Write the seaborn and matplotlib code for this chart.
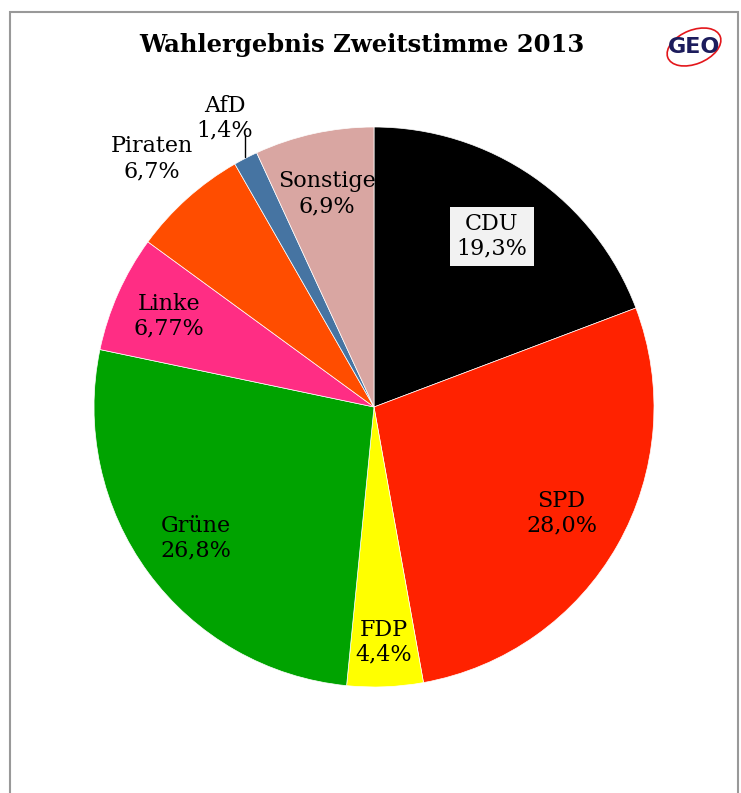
import numpy as np
import matplotlib
matplotlib.use("Agg")
import matplotlib.pyplot as plt
from matplotlib.patches import Rectangle, Ellipse
import seaborn as sns

sns.set_theme(style="white")
plt.rcParams['font.family'] = ['DejaVu Serif']
plt.rcParams['text.color'] = 'black'

# Zweitstimme 2013
parties = ["CDU", "SPD", "FDP", "Grüne", "Linke", "Piraten", "AfD", "Sonstige"]
shares = [19.3, 28.0, 4.4, 26.8, 6.77, 6.7, 1.4, 6.9]
share_labels = ["19,3%", "28,0%", "4,4%", "26,8%", "6,77%", "6,7%", "1,4%", "6,9%"]
colors = ["#000000", "#FF2200", "#FFFF00", "#00A300", "#FF2D84",
          "#FF4D00", "#4674A2", "#D9A6A2"]

# label placement (fraction of radius)
label_dist = [0.74, 0.77, 0.84, 0.79, 0.80, 1.19, 1.16, 0.78]

fig = plt.figure(figsize=(7.41, 7.93), dpi=100)

# frame around the chart
fig.patches.append(Rectangle((10 / 741, -0.05), 728 / 741, 1 - 12 / 793 + 0.05,
                             transform=fig.transFigure, fill=False,
                             edgecolor="#999999", linewidth=1.5))

ax = fig.add_axes([94 / 741, 106 / 793, 560 / 741, 560 / 793])
wedges, _ = ax.pie(shares, colors=colors, startangle=90, counterclock=False,
                   radius=1, wedgeprops=dict(edgecolor="white", linewidth=0.5))
ax.set_xlim(-1, 1)
ax.set_ylim(-1, 1)
ax.set_aspect("equal")
ax.axis("off")

for i, w in enumerate(wedges):
    ang = np.deg2rad((w.theta1 + w.theta2) / 2)
    r = label_dist[i]
    x, y = r * np.cos(ang), r * np.sin(ang)
    kw = dict(ha="center", va="center", fontsize=16, color="black",
              linespacing=1.15, clip_on=False)
    if parties[i] == "CDU":
        kw["bbox"] = dict(boxstyle="square,pad=0.3", facecolor="#F2F2F2", edgecolor="none")
    ax.text(x, y, f"{parties[i]}\n{share_labels[i]}", **kw)
    if parties[i] == "AfD":
        ax.plot([np.cos(ang) * 1.005, np.cos(ang) * 1.005],
                [np.sin(ang) * 1.005, np.sin(ang) * 1.005 + 0.08],
                color="black", linewidth=1, clip_on=False)

fig.text(362 / 741, 1 - 45 / 793, "Wahlergebnis Zweitstimme 2013",
         ha="center", va="center", fontsize=17.5, fontweight="bold", color="black")

# GEO logo
fig.patches.append(Ellipse((694 / 741, 1 - 47 / 793), 56 / 741, 34 / 793, angle=20,
                           transform=fig.transFigure, fill=False,
                           edgecolor="#E3161B", linewidth=1.2))
fig.text(694 / 741, 1 - 47 / 793, "GEO", ha="center", va="center",
         fontsize=16, fontweight="bold", color="#1C1C5C", family="DejaVu Sans")

fig.savefig("out.png", dpi=100)
